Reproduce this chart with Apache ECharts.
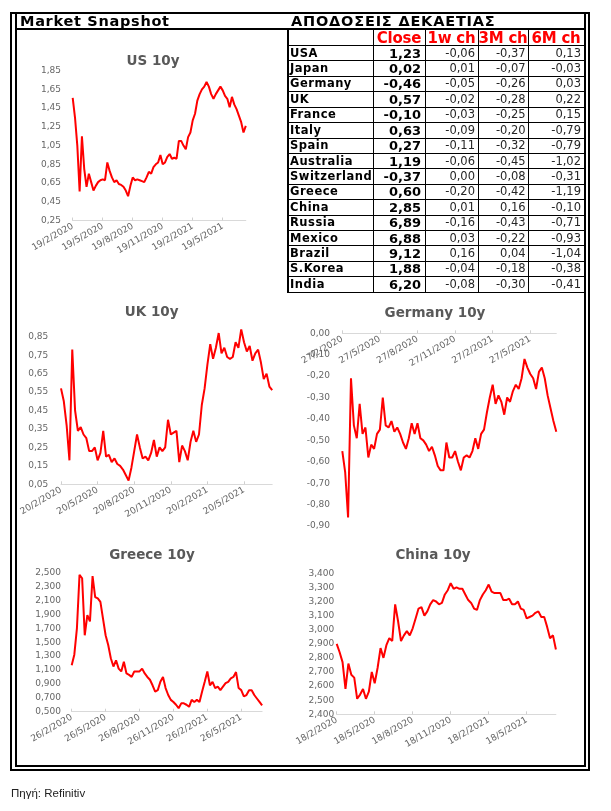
<!DOCTYPE html>
<html><head><meta charset="utf-8">
<script src="https://cdn.jsdelivr.net/npm/echarts@6/dist/echarts.min.js"></script>
<style>
html,body{margin:0;padding:0;background:#fff;}
#wrap{position:relative;width:611px;height:811px;overflow:hidden;background:#fff;}
#chart{position:absolute;left:0;top:0;width:611px;height:811px;}
#overlay{position:absolute;left:0;top:0;width:611px;height:811px;pointer-events:none;}
.ln{position:absolute;background:#000;}
.tx{position:absolute;white-space:nowrap;font-family:'DejaVu Sans',Verdana,sans-serif;color:#000;}
</style></head><body>
<div id="wrap"><div id="chart"></div><div id="overlay"></div></div>
<script>
// ---------- DATA ----------
const usTicks = ['19/2/2020','19/5/2020','19/8/2020','19/11/2020','19/2/2021','19/5/2021'];
const usYTicks = ['0,25','0,45','0,65','0,85','1,05','1,25','1,45','1,65','1,85'];
const us10y = [1.56,1.35,1.05,0.56,1.15,0.80,0.61,0.75,0.66,0.57,0.62,0.66,0.68,0.69,0.68,0.87,0.78,0.71,0.66,0.68,0.64,0.63,0.61,0.57,0.51,0.62,0.71,0.68,0.69,0.68,0.67,0.66,0.71,0.77,0.75,0.82,0.85,0.87,0.95,0.85,0.87,0.93,0.96,0.91,0.92,0.91,1.10,1.10,1.05,1.01,1.14,1.19,1.32,1.39,1.53,1.60,1.65,1.68,1.73,1.68,1.60,1.55,1.60,1.64,1.68,1.64,1.58,1.55,1.46,1.57,1.49,1.44,1.37,1.30,1.19,1.26];

const ukTicks = ['20/2/2020','20/5/2020','20/8/2020','20/11/2020','20/2/2021','20/5/2021'];
const ukYTicks = ['0,05','0,15','0,25','0,35','0,45','0,55','0,65','0,75','0,85'];
const uk10y = [0.57,0.50,0.37,0.18,0.78,0.45,0.34,0.36,0.32,0.30,0.23,0.23,0.25,0.18,0.22,0.34,0.20,0.21,0.17,0.19,0.16,0.15,0.13,0.10,0.07,0.14,0.23,0.32,0.25,0.19,0.20,0.18,0.22,0.29,0.20,0.25,0.23,0.25,0.40,0.32,0.33,0.34,0.17,0.26,0.23,0.18,0.28,0.34,0.28,0.32,0.48,0.57,0.70,0.81,0.73,0.79,0.87,0.76,0.79,0.74,0.73,0.74,0.82,0.79,0.89,0.82,0.77,0.80,0.72,0.76,0.78,0.71,0.62,0.65,0.58,0.56];

const deTicks = ['27/2/2020','27/5/2020','27/8/2020','27/11/2020','27/2/2021','27/5/2021'];
const deYTicks = ['0,00','-0,10','-0,20','-0,30','-0,40','-0,50','-0,60','-0,70','-0,80','-0,90'];
const de10y = [-0.55,-0.65,-0.86,-0.21,-0.43,-0.49,-0.33,-0.47,-0.44,-0.58,-0.52,-0.54,-0.47,-0.45,-0.30,-0.43,-0.44,-0.41,-0.46,-0.44,-0.47,-0.51,-0.54,-0.49,-0.42,-0.47,-0.42,-0.49,-0.50,-0.52,-0.55,-0.53,-0.57,-0.62,-0.64,-0.64,-0.51,-0.58,-0.58,-0.55,-0.60,-0.64,-0.58,-0.57,-0.58,-0.55,-0.49,-0.54,-0.47,-0.45,-0.37,-0.30,-0.24,-0.33,-0.29,-0.32,-0.38,-0.30,-0.32,-0.27,-0.24,-0.26,-0.21,-0.12,-0.16,-0.19,-0.21,-0.26,-0.18,-0.16,-0.21,-0.29,-0.35,-0.41,-0.46];

const grTicks = ['26/2/2020','26/5/2020','26/8/2020','26/11/2020','26/2/2021','26/5/2021'];
const grYTicks = ['0,500','0,700','0,900','1,100','1,300','1,500','1,700','1,900','2,100','2,300','2,500'];
const gr10y = [1.17,1.32,1.70,2.47,2.42,1.60,1.89,1.80,2.45,2.15,2.13,2.08,1.84,1.60,1.46,1.27,1.15,1.24,1.12,1.08,1.22,1.05,1.03,1.00,1.08,1.08,1.08,1.12,1.05,1.00,0.96,0.88,0.79,0.81,0.93,1.00,0.84,0.74,0.67,0.64,0.60,0.55,0.62,0.62,0.60,0.57,0.67,0.64,0.67,0.64,0.79,0.93,1.08,0.88,0.93,0.84,0.86,0.81,0.86,0.91,0.93,0.98,1.00,1.07,0.84,0.81,0.72,0.74,0.81,0.81,0.74,0.69,0.64,0.59];

const cnTicks = ['18/2/2020','18/5/2020','18/8/2020','18/11/2020','18/2/2021','18/5/2021'];
const cnYTicks = ['2,400','2,500','2,600','2,700','2,800','2,900','3,000','3,100','3,200','3,300','3,400'];
const cn10y = [2.90,2.84,2.77,2.58,2.76,2.68,2.66,2.51,2.54,2.58,2.51,2.56,2.70,2.62,2.73,2.87,2.80,2.89,2.94,2.92,3.18,3.06,2.92,2.96,2.99,2.96,3.01,3.08,3.15,3.16,3.10,3.13,3.18,3.21,3.20,3.18,3.19,3.25,3.28,3.33,3.29,3.30,3.29,3.29,3.25,3.21,3.19,3.15,3.14,3.21,3.25,3.28,3.32,3.27,3.26,3.26,3.26,3.21,3.21,3.22,3.18,3.18,3.20,3.15,3.14,3.08,3.09,3.10,3.12,3.13,3.09,3.09,3.02,2.94,2.96,2.86];

const tableHeaders = ['Close','1w ch','3M ch','6M ch'];
const countries = ['USA','Japan','Germany','UK','France','Italy','Spain','Australia','Switzerland','Greece','China','Russia','Mexico','Brazil','S.Korea','India'];
const closeVals = [1.23,0.02,-0.46,0.57,-0.10,0.63,0.27,1.19,-0.37,0.60,2.85,6.89,6.88,9.12,1.88,6.20];
const chg1w = [-0.06,0.01,-0.05,-0.02,-0.03,-0.09,-0.11,-0.06,0.00,-0.20,0.01,-0.16,0.03,0.16,-0.04,-0.08];
const chg3m = [-0.37,-0.07,-0.26,-0.28,-0.25,-0.20,-0.32,-0.45,-0.08,-0.42,0.16,-0.43,-0.22,0.04,-0.18,-0.30];
const chg6m = [0.13,-0.03,0.03,0.22,0.15,-0.79,-0.79,-1.02,-0.31,-1.19,-0.10,-0.71,-0.93,-1.04,-0.38,-0.41];

// ---------- CHARTS ----------
const FONT = "'DejaVu Sans', Verdana, sans-serif";
const panels = [
  {title:'US 10y', data:us10y, xTicks:usTicks, yTicks:usYTicks, min:0.25, max:1.85, step:0.05, dec:2,
   grid:{left:72.7, top:70.7, width:173.1, height:149.8}, yMargin:11.7, tx:153, ty:61.5, axisTop:false},
  {title:'UK 10y', data:uk10y, xTicks:ukTicks, yTicks:ukYTicks, min:0.05, max:0.9, step:0.05, dec:2,
   grid:{left:61, top:327.5, width:211.2, height:156.8}, yMargin:12.7, tx:151.7, ty:312, axisTop:false},
  {title:'Germany 10y', data:de10y, xTicks:deTicks, yTicks:deYTicks, min:-0.9, max:0, step:0.1, dec:2,
   grid:{left:342.3, top:333.3, width:214, height:192.7}, yMargin:12.3, tx:435, ty:313, axisTop:true},
  {title:'Greece 10y', data:gr10y, xTicks:grTicks, yTicks:grYTicks, min:0.5, max:2.5, step:0.1, dec:3,
   grid:{left:71.7, top:572.7, width:190.4, height:139}, yMargin:10.7, tx:152, ty:555, axisTop:false},
  {title:'China 10y', data:cn10y, xTicks:cnTicks, yTicks:cnYTicks, min:2.4, max:3.4, step:0.1, dec:3,
   grid:{left:336.7, top:573.3, width:219.2, height:141}, yMargin:2.5, tx:433, ty:555.5, axisTop:false}
];

const option = {animation:false, backgroundColor:'transparent', title:[], grid:[], xAxis:[], yAxis:[], series:[]};
panels.forEach((p, i) => {
  option.title.push({text:p.title, left:p.tx, top:p.ty - 7, textAlign:'center', padding:0,
    textStyle:{fontFamily:FONT, fontSize:13.5, fontWeight:'bold', color:'#595959'}});
  option.grid.push(Object.assign({containLabel:false, outerBoundsMode:'none'}, p.grid));
  option.xAxis.push({
    type:'category', gridIndex:i, boundaryGap:false, data:p.data.map((_, k) => k),
    position: p.axisTop ? 'top' : 'bottom',
    axisLine:{onZero:false, lineStyle:{color:'#d9d9d9', width:1}},
    axisTick:{interval:(k) => k % 13 === 0, length:3, inside: !p.axisTop, lineStyle:{color:'#d0d0d0'}},
    axisLabel:{interval:(k) => k % 13 === 0, formatter:(v, k) => p.xTicks[k / 13] || '',
      inside: p.axisTop, rotate: p.axisTop ? -30 : 30, margin:5, fontFamily:FONT, fontSize:9, color:'#666'},
    splitLine:{show:false}
  });
  option.yAxis.push({
    type:'value', gridIndex:i, min:p.min, max:p.max, interval:p.step,
    axisLine:{show:false}, axisTick:{show:false}, splitLine:{show:false},
    axisLabel:{margin:p.yMargin, fontFamily:FONT, fontSize:9, color:'#666',
      formatter:(v) => { const s = (Math.abs(v) < 1e-9 ? 0 : v).toFixed(p.dec).replace('.', ','); return p.yTicks.includes(s) ? s : ''; }}
  });
  option.series.push({type:'line', xAxisIndex:i, yAxisIndex:i, data:p.data, showSymbol:false, symbol:'none',
    lineStyle:{color:'#ff0000', width:2}, itemStyle:{color:'#ff0000'}, silent:true});
});
const chart = echarts.init(document.getElementById('chart'), null, {renderer:'canvas'});
chart.setOption(option);

// ---------- FRAME & TABLE ----------
const ov = document.getElementById('overlay');
function box(x, y, w, h) {
  const d = document.createElement('div'); d.className = 'ln';
  d.style.left = x + 'px'; d.style.top = y + 'px'; d.style.width = w + 'px'; d.style.height = h + 'px';
  ov.appendChild(d);
}
function txt(s, x, y, w, h, css) {
  const d = document.createElement('div'); d.className = 'tx'; d.textContent = s;
  d.style.left = x + 'px'; d.style.top = y + 'px';
  if (w != null) d.style.width = w + 'px';
  if (h != null) { d.style.height = h + 'px'; d.style.lineHeight = h + 'px'; }
  Object.assign(d.style, css || {});
  ov.appendChild(d);
}
const fmt = (v) => v.toFixed(2).replace('.', ',');

// outer frame
box(10, 12, 580, 2);          // top
box(10, 12, 2, 759);          // left outer
box(15, 12, 2, 755);          // left inner
box(583.5, 12, 2.5, 755);     // right inner
box(588, 12, 2, 759);         // right outer
box(15, 764.5, 571, 2);       // bottom inner
box(10, 768.5, 580, 2);       // bottom outer
box(15, 28, 571, 2);          // header underline

// table
const rowTop0 = 45, rowH = 15.42;
const colX = [373, 425, 478, 528];
const tBottom = rowTop0 + rowH * countries.length;
box(286.5, 28, 2, tBottom - 28 + 1);
for (let k = 0; k <= countries.length; k++) box(287, rowTop0 + k * rowH, 297, 1);
colX.forEach(x => box(x, 29, 1, tBottom - 29));

txt('Market Snapshot', 20, 13, null, 17, {fontSize:'14.5px', fontWeight:'bold', letterSpacing:'0.7px'});
txt('ΑΠΟΔΟΣΕΙΣ ΔΕΚΑΕΤΙΑΣ', 291, 13, null, 17, {fontSize:'14.5px', fontWeight:'bold', letterSpacing:'0.8px'});

const colEdges = [373, 425, 478, 528, 584];
tableHeaders.forEach((h, j) => {
  txt(h, colEdges[j], 30, colEdges[j + 1] - colEdges[j], 16,
    {fontSize:'15px', fontWeight:'bold', color:'#ff0000', textAlign:'center', letterSpacing:'-0.2px'});
});
countries.forEach((c, r) => {
  const y = rowTop0 + r * rowH + 0.6;
  txt(c, 290, y, null, rowH, {fontSize:'11.5px', fontWeight:'bold', letterSpacing:'0.5px'});
  txt(fmt(closeVals[r]), 373, y, 48, rowH, {fontSize:'13px', fontWeight:'bold', textAlign:'right'});
  txt(fmt(chg1w[r]), 425, y, 50, rowH, {fontSize:'11.5px', textAlign:'right', color:'#262626'});
  txt(fmt(chg3m[r]), 478, y, 47.7, rowH, {fontSize:'11.5px', textAlign:'right', color:'#262626'});
  txt(fmt(chg6m[r]), 528, y, 53, rowH, {fontSize:'11.5px', textAlign:'right', color:'#262626'});
});

txt('Πηγή: Refinitiv', 11, 786.5, null, 13, {fontFamily:"'Liberation Sans', Arial, sans-serif", fontSize:'11.5px', color:'#222'});
</script>
</body></html>
